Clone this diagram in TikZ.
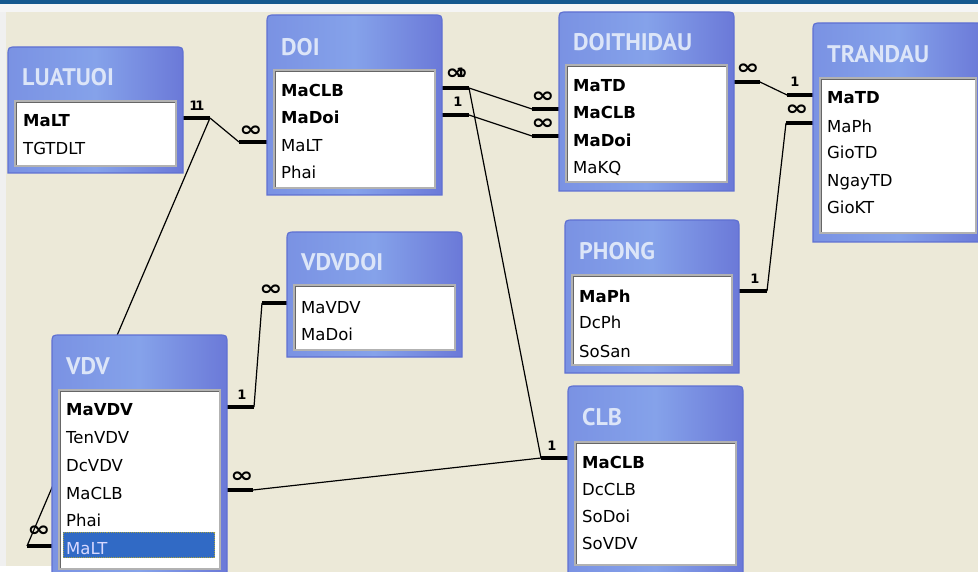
\documentclass[tikz,border=0pt]{standalone}
\usepackage{fontspec}
\setmainfont{DejaVu Sans}
\newfontfamily\titlefont{PT Sans}

\definecolor{desk}{HTML}{ECE9D8}
\definecolor{frameL}{HTML}{7A92E3}
\definecolor{frameM}{HTML}{85A2EA}
\definecolor{frameR}{HTML}{6B79D8}
\definecolor{frameB}{HTML}{5F70D2}
\definecolor{titletxt}{HTML}{DCE5F8}
\definecolor{sel}{HTML}{316AC5}
\definecolor{topband}{HTML}{15588F}

\newcommand\manysym{\scalebox{1.85}[1.4]{∞}}

\tikzset{
  field/.style={anchor=base west, inner sep=0pt, font=\fontsize{16.5}{18}\selectfont, text=black},
  keyfield/.style={field, font=\fontsize{16.5}{18}\selectfont\bfseries},
  tabtitle/.style={anchor=base west, inner sep=0pt, font=\titlefont\bfseries\fontsize{24}{26}\selectfont, text=titletxt},
  link/.style={line width=1.2pt, black},
  stub/.style={line width=3.5pt, black},
  one/.style={inner sep=0pt, font=\bfseries\fontsize{13}{14}\selectfont},
  many/.style={inner sep=0pt, font=\bfseries\fontsize{15}{15}\selectfont},
}

% table window: id, x0, y0, x1, y1, title, title baseline, list top, list bottom
\newcommand\dbtable[9]{%
  \shadedraw[left color=frameL, right color=frameR, middle color=frameM, draw=frameB, line width=1.2pt]
    (#2,#5) -- (#2,#3+9) .. controls (#2,#3) .. (#2+9,#3) -- (#4-9,#3)
    .. controls (#4,#3) .. (#4,#3+9) -- (#4,#5) -- cycle;
  \fill[white] (#2+7,#8) rectangle (#4-7,#9);
  \draw[line width=1.5pt, draw=black!30] (#2+7,#8) rectangle (#4-7,#9);
  \draw[line width=0.8pt, draw=black!60] (#2+8,#9-1) |- (#4-8,#8+1);
  \node[tabtitle] (#1) at (#2+14,#7) {#6};
}

\begin{document}
\begin{tikzpicture}[x=1pt,y=-1pt]
\useasboundingbox (0,0) rectangle (978,572);

% desktop background and slide edges
\fill[desk] (0,0) rectangle (978,572);
\fill[topband] (0,0) rectangle (978,4);
\fill[black!4] (0,4) rectangle (978,12);
\fill[black!6] (0,12) rectangle (6,572);
\fill[white] (0,566) rectangle (52,572);

% ---------- relationship lines ----------
% LUATUOI.MaLT -> DOI.MaLT
\coordinate (lt-e)  at (183,118);
\coordinate (lt-k)  at (210,118);
\coordinate (doi-mlt-k) at (239,142);
\coordinate (doi-mlt-e) at (267,142);
\draw[stub] (lt-e) -- (lt-k);
\draw[link] (lt-k) -- (doi-mlt-k);
\draw[stub] (doi-mlt-k) -- (doi-mlt-e);
\node[one] (l1a) at (194,106) {1};
\node[one] (l1b) at (200,106) {1};
\node[many] (l1c) at (251,131) {\manysym};

% LUATUOI.MaLT -> VDV.MaLT
\coordinate (vdv-mlt-k) at (27,546);
\coordinate (vdv-mlt-e) at (52,546);
\draw[link] (lt-k) -- (vdv-mlt-k);
\draw[stub] (vdv-mlt-k) -- (vdv-mlt-e);
\node[many] (l2a) at (39,531) {\manysym};

% DOI.MaCLB -> DOITHIDAU.MaCLB
\coordinate (doi-clb-e) at (442,88);
\coordinate (doi-clb-k) at (469,88);
\coordinate (dtd-clb-k) at (532,109);
\coordinate (dtd-clb-e) at (559,109);
\draw[stub] (doi-clb-e) -- (doi-clb-k);
\draw[link] (doi-clb-k) -- (dtd-clb-k);
\draw[stub] (dtd-clb-k) -- (dtd-clb-e);
\node[many] (l3a) at (457,74) {\manysym};
\node[one]  (l3b) at (461,73) {1};
\node[many] (l3c) at (543,97) {\manysym};

% DOI.MaDoi -> DOITHIDAU.MaDoi
\coordinate (doi-doi-e) at (442,115);
\coordinate (doi-doi-k) at (469,115);
\coordinate (dtd-doi-k) at (532,136);
\coordinate (dtd-doi-e) at (559,136);
\draw[stub] (doi-doi-e) -- (doi-doi-k);
\draw[link] (doi-doi-k) -- (dtd-doi-k);
\draw[stub] (dtd-doi-k) -- (dtd-doi-e);
\node[one]  (l4a) at (458,102) {1};
\node[many] (l4b) at (543,124) {\manysym};

% DOI.MaCLB -> CLB.MaCLB
\coordinate (clb-k) at (541,458);
\coordinate (clb-e) at (568,458);
\draw[link] (doi-clb-k) -- (clb-k);
\draw[stub] (clb-k) -- (clb-e);
\node[one] (l5a) at (552,446) {1};

% VDV.MaCLB -> CLB.MaCLB
\coordinate (vdv-clb-e) at (227,490);
\coordinate (vdv-clb-k) at (253,490);
\draw[stub] (vdv-clb-e) -- (vdv-clb-k);
\draw[link] (vdv-clb-k) -- (clb-k);
\node[many] (l6a) at (242,477) {\manysym};

% VDV.MaVDV -> VDVDOI.MaVDV
\coordinate (vdv-vdv-e) at (227,407);
\coordinate (vdv-vdv-k) at (254,407);
\coordinate (vd-vdv-k) at (262,303);
\coordinate (vd-vdv-e) at (287,303);
\draw[stub] (vdv-vdv-e) -- (vdv-vdv-k);
\draw[link] (vdv-vdv-k) -- (vd-vdv-k);
\draw[stub] (vd-vdv-k) -- (vd-vdv-e);
\node[one]  (l7a) at (242,395) {1};
\node[many] (l7b) at (271,290) {\manysym};

% DOITHIDAU.MaTD -> TRANDAU.MaTD
\coordinate (dtd-td-e) at (734,82);
\coordinate (dtd-td-k) at (760,82);
\coordinate (td-td-k) at (787,95);
\coordinate (td-td-e) at (813,95);
\draw[stub] (dtd-td-e) -- (dtd-td-k);
\draw[link] (dtd-td-k) -- (td-td-k);
\draw[stub] (td-td-k) -- (td-td-e);
\node[many] (l8a) at (748,69) {\manysym};
\node[one]  (l8b) at (795,82) {1};

% PHONG.MaPh -> TRANDAU.MaPh
\coordinate (ph-e) at (739,291);
\coordinate (ph-k) at (767,291);
\coordinate (td-ph-k) at (786,123);
\coordinate (td-ph-e) at (813,123);
\draw[stub] (ph-e) -- (ph-k);
\draw[link] (ph-k) -- (td-ph-k);
\draw[stub] (td-ph-k) -- (td-ph-e);
\node[one]  (l9a) at (755,279) {1};
\node[many] (l9b) at (797,110) {\manysym};

% ---------- tables ----------
\dbtable{luatuoi}{8}{47}{183}{173}{LUATUOI}{85.5}{101}{166}
\node[keyfield] (luatuoi-malt) at (23,127) {MaLT};
\node[field] (luatuoi-tgtdlt) at (23,155) {TGTDLT};

\dbtable{doi}{267}{15}{442}{195}{DOI}{55.5}{70}{188}
\node[keyfield] (doi-maclb) at (281,97) {MaCLB};
\node[keyfield] (doi-madoi) at (281,124) {MaDoi};
\node[field] (doi-malt) at (281,152) {MaLT};
\node[field] (doi-phai) at (281,179) {Phai};

\dbtable{doithidau}{559}{12}{734}{191}{DOITHIDAU}{50.5}{65}{182}
\node[keyfield] (dtd-matd) at (573,92) {MaTD};
\node[keyfield] (dtd-maclb) at (573,119) {MaCLB};
\node[keyfield] (dtd-madoi) at (573,147) {MaDoi};
\node[field] (dtd-makq) at (573,174) {MaKQ};

\dbtable{trandau}{813}{23}{983}{242}{TRANDAU}{62.5}{78}{233}
\node[keyfield] (td-matd) at (827,104) {MaTD};
\node[field] (td-maph) at (827,133) {MaPh};
\node[field] (td-giotd) at (827,159) {GioTD};
\node[field] (td-ngaytd) at (827,187) {NgayTD};
\node[field] (td-giokt) at (827,214) {GioKT};

\dbtable{phong}{565}{220}{739}{373}{PHONG}{259.5}{275}{365}
\node[keyfield] (ph-maph) at (579,303) {MaPh};
\node[field] (ph-dcph) at (579,329) {DcPh};
\node[field] (ph-sosan) at (579,357) {SoSan};

\dbtable{vdvdoi}{287}{232}{462}{357}{VDVDOI}{270.5}{285}{350}
\node[field] (vd-mavdv) at (301,313) {MaVDV};
\node[field] (vd-madoi) at (301,341) {MaDoi};

\dbtable{vdv}{52}{335}{227}{574}{VDV}{374.5}{390}{569}
\node[keyfield] (vdv-mavdv) at (66,415) {MaVDV};
\node[field] (vdv-tenvdv) at (66,443) {TenVDV};
\node[field] (vdv-dcvdv) at (66,471) {DcVDV};
\node[field] (vdv-maclb) at (66,499) {MaCLB};
\node[field] (vdv-phai) at (66,526) {Phai};
\fill[sel] (63,532) rectangle (215,558);
\draw[densely dotted, line width=1pt, draw=yellow!60!black] (63.5,532.5) rectangle (214.5,557.5);
\node[field, text=white!85!blue] (vdv-malt) at (66,554) {MaLT};

\dbtable{clb}{568}{386}{743}{574}{CLB}{425.5}{442}{565}
\node[keyfield] (clb-maclb) at (582,468) {MaCLB};
\node[field] (clb-dcclb) at (582,495) {DcCLB};
\node[field] (clb-sodoi) at (582,522) {SoDoi};
\node[field] (clb-sovdv) at (582,549) {SoVDV};
\end{tikzpicture}
\end{document}
